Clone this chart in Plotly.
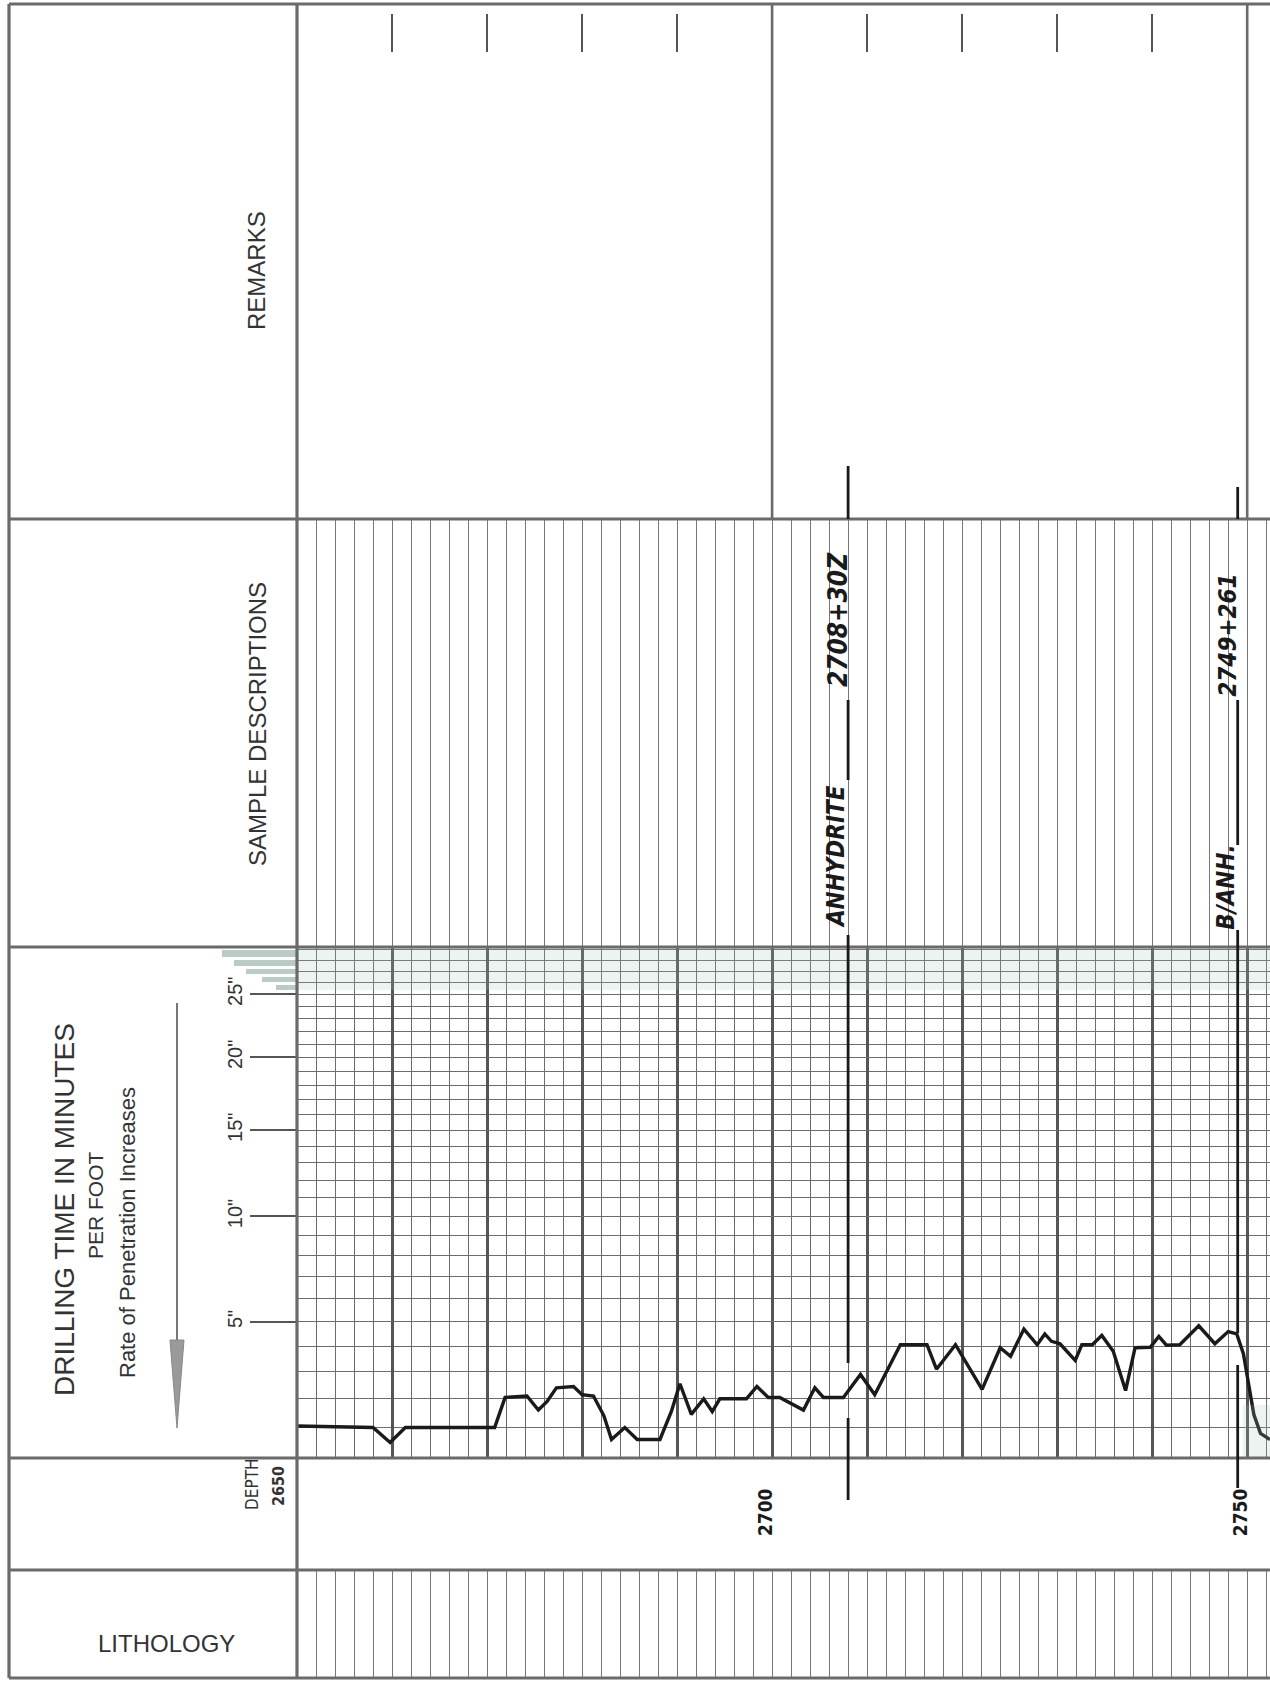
import math
import plotly.graph_objects as go

# drilling time curve: depth (ft) and minutes per foot
depth_ft = [2650.0, 2658.0, 2659.8, 2661.4, 2670.8, 2671.9, 2674.2, 2675.4, 2676.3, 2677.3,
            2679.1, 2680.0, 2681.2, 2682.3, 2683.1, 2684.5, 2685.8, 2688.2, 2689.4, 2690.3,
            2691.5, 2692.8, 2693.7, 2694.5, 2697.3, 2698.4, 2699.6, 2700.8, 2703.3, 2704.5,
            2705.4, 2707.5, 2709.3, 2710.8, 2713.5, 2716.3, 2717.3, 2719.3, 2722.1, 2724.0,
            2725.1, 2726.5, 2727.9, 2728.7, 2729.4, 2730.3, 2731.9, 2732.6, 2733.7, 2734.7,
            2735.9, 2737.2, 2738.2, 2739.8, 2740.7, 2741.5, 2742.9, 2744.9, 2746.6, 2748.0,
            2748.9, 2749.6, 2750.7, 2751.4, 2752.4]
drill_min = [1.05, 1.0, 0.5, 1.0, 1.0, 2.05, 2.1, 1.6, 1.9, 2.4,
             2.45, 2.15, 2.1, 1.4, 0.6, 1.0, 0.6, 0.6, 1.55, 2.55,
             1.45, 2.0, 1.55, 2.0, 2.0, 2.45, 2.05, 2.05, 1.6, 2.4,
             2.05, 2.05, 2.9, 2.15, 4.06, 4.06, 3.1, 4.06, 2.34, 3.94,
             3.6, 4.7, 4.06, 4.5, 4.2, 4.1, 3.44, 4.06, 4.06, 4.44,
             3.8, 2.3, 3.94, 3.96, 4.4, 4.04, 4.06, 4.84, 4.1, 4.6,
             4.5, 3.7, 1.44, 0.8, 0.6]

# time scale of the form
time_ticks = [5, 10, 15, 20, 25]
time_tick_text = ['5"', '10"', '15"', '20"', '25"']
minute_lines = list(range(1, 30))
OFFSET = 15          # the chart's time scale is logarithmic in (minutes + 15)
TIME_TOP = 29.2

depth_top = 2650
depth_end = 2752.4
depth_labels = [2700, 2750]
remark_dividers = [2700, 2750]

# formation tops written on the log
tops = [2708, 2749]
top_names = ["ANHYDRITE", "B/ANH."]
top_values = ["2708+30Z", "2749+261"]

W, H = 1270, 1682


def px(p):
    return p / W


def py(p):
    return 1 - p / H


GRID = "#6c6c6c"
BORDER = "#6a6a6a"
INK = "#333333"
FONT = "Liberation Sans, Arial, sans-serif"
NARROW = "Liberation Sans Narrow, DejaVu Sans Condensed, Liberation Sans, sans-serif"
HAND = "DejaVu Sans Condensed, Liberation Sans Narrow, DejaVu Sans, sans-serif"

# band edges in pixels: top, remarks/sample, sample/drill, drill/depth, depth/lithology, bottom
band_y = [4, 519, 947, 1458, 1570, 1678]
left_x, head_x = 9, 297

fig = go.Figure()

fig.add_trace(go.Scatter(
    x=depth_ft, y=[m + OFFSET for m in drill_min], xaxis="x", yaxis="y",
    mode="lines", line=dict(color="#1a1a1a", width=3.4), hoverinfo="skip"))

for n in range(2, 6):
    fig.add_trace(go.Scatter(x=[depth_top], y=[0.5], xaxis="x%d" % n, yaxis="y%d" % n,
                             mode="markers", marker=dict(opacity=0), hoverinfo="skip"))

base_x = dict(range=[depth_top, depth_end], domain=[px(head_x), 1], showticklabels=False,
              zeroline=False, showline=False, ticks="", fixedrange=True)
base_y = dict(range=[0, 1], showticklabels=False, showgrid=False, zeroline=False,
              showline=False, ticks="", fixedrange=True)

layout = dict(
    width=W, height=H, margin=dict(l=0, r=0, t=0, b=0),
    paper_bgcolor="white", plot_bgcolor="white", showlegend=False,
    font=dict(family=FONT, color=INK),
    xaxis=dict(base_x, anchor="y", showgrid=True, dtick=10, tick0=depth_top,
               gridcolor="#555555", gridwidth=2.6,
               minor=dict(dtick=2, tick0=depth_top, showgrid=True, gridcolor=GRID, gridwidth=1.4)),
    yaxis=dict(type="log", anchor="x", domain=[py(band_y[3]), py(band_y[2])],
               range=[math.log10(OFFSET), math.log10(TIME_TOP + OFFSET)],
               tickmode="array", tickvals=[t + OFFSET for t in time_ticks], ticktext=time_tick_text,
               ticks="outside", ticklen=46, tickwidth=2, tickcolor="#555555", tickangle=-90,
               tickfont=dict(size=20, color=INK), showgrid=True, gridcolor=GRID, gridwidth=1.4,
               zeroline=False, showline=False, fixedrange=True,
               minor=dict(tickmode="array", tickvals=[m + OFFSET for m in minute_lines],
                          showgrid=True, gridcolor=GRID, gridwidth=1.4, ticks="")),
    xaxis2=dict(base_x, anchor="y2", matches="x", showgrid=True, dtick=2, tick0=depth_top,
                gridcolor="#777777", gridwidth=1.4),
    yaxis2=dict(base_y, anchor="x2", domain=[py(band_y[2]), py(band_y[1])]),
    xaxis3=dict(base_x, anchor="y3", matches="x", showgrid=True, dtick=2, tick0=depth_top,
                gridcolor="#777777", gridwidth=1.4),
    yaxis3=dict(base_y, anchor="x3", domain=[py(band_y[5]), py(band_y[4])]),
    xaxis4=dict(base_x, anchor="y4", matches="x", showgrid=False),
    yaxis4=dict(base_y, anchor="x4", domain=[py(band_y[4]), py(band_y[3])]),
    xaxis5=dict(base_x, anchor="y5", matches="x", showgrid=False, side="top",
                ticks="inside", ticklen=38, tickwidth=2.2, tickcolor="#555555",
                tickmode="linear", tick0=depth_top, dtick=10),
    yaxis5=dict(base_y, anchor="x5", domain=[py(band_y[1]), py(14)]),
)
fig.update_layout(**layout)

shapes = []
# scan tint at the top of the drilling-time grid
shapes.append(dict(type="rect", xref="paper", yref="paper", x0=px(head_x), x1=1,
                   y0=py(990), y1=py(band_y[2]), fillcolor="#9fc3b8", opacity=0.2,
                   line=dict(width=0), layer="above"))
shapes.append(dict(type="rect", xref="paper", yref="paper", x0=px(1243), x1=1,
                   y0=py(band_y[3]), y1=py(1405), fillcolor="#9fc3b8", opacity=0.2,
                   line=dict(width=0), layer="above"))
for x0, y0, y1 in [(222, 950, 957), (234, 960, 966), (246, 969, 974), (262, 977, 982), (276, 985, 990)]:
    shapes.append(dict(type="rect", xref="paper", yref="paper", x0=px(x0), x1=px(head_x),
                       y0=py(y1), y1=py(y0), fillcolor="#9db3ad", opacity=0.7, line=dict(width=0)))

# form borders
for y in band_y:
    shapes.append(dict(type="line", xref="paper", yref="paper", x0=px(left_x), x1=1,
                       y0=py(y), y1=py(y), line=dict(color=BORDER, width=3.2), layer="above"))
for x in [left_x, head_x]:
    shapes.append(dict(type="line", xref="paper", yref="paper", x0=px(x), x1=px(x),
                       y0=py(band_y[0]), y1=py(band_y[-1]), line=dict(color=BORDER, width=3.2),
                       layer="above"))
for d in remark_dividers:
    shapes.append(dict(type="line", xref="x", yref="paper", x0=d, x1=d,
                       y0=py(band_y[0]), y1=py(band_y[1]), line=dict(color=BORDER, width=2.6)))

# formation top marker lines (broken where text or curve crosses them)
top_segments = [
    [(466, 519), (700, 780), (935, 947), (947, 1363), (1418, 1500)],
    [(487, 519), (700, 845), (930, 947), (947, 1333), (1365, 1488)],
]
for d, segs in zip(tops, top_segments):
    for a, b in segs:
        shapes.append(dict(type="line", xref="x", yref="paper", x0=d, x1=d, y0=py(b), y1=py(a),
                           line=dict(color="#1a1a1a", width=2.8), layer="above"))

# direction arrow in the header
shapes.append(dict(type="line", xref="paper", yref="paper", x0=px(177), x1=px(177),
                   y0=py(1345), y1=py(1003), line=dict(color="#777777", width=2)))
shapes.append(dict(type="path", xref="paper", yref="paper",
                   path="M %f,%f L %f,%f L %f,%f Z" % (px(170), py(1340), px(184), py(1340),
                                                       px(177), py(1428)),
                   fillcolor="#9a9a9a", line=dict(color="#888888", width=1)))
fig.update_layout(shapes=shapes)

ann = []


def head(text, x, y, size, angle=-90, family=FONT):
    ann.append(dict(text=text, xref="paper", yref="paper", x=px(x), y=py(y), showarrow=False,
                    xanchor="center", yanchor="middle",
                    textangle=angle, font=dict(size=size, color=INK, family=family)))


head("REMARKS", 257, 271, 24)
head("SAMPLE DESCRIPTIONS", 257, 724, 24)
head("DRILLING TIME IN MINUTES", 64, 1210, 28)
head("PER FOOT", 95, 1205, 21)
head("Rate of Penetration Increases", 127, 1233, 22)
head("DEPTH", 252, 1484, 17, family=NARROW)
head("<b>2650</b>", 278, 1486, 16, family=NARROW)
head("LITHOLOGY", 166, 1643, 24, angle=0)

for d in depth_labels:
    ann.append(dict(text="<b>%d</b>" % d, xref="x", yref="paper", x=d, y=py(1512), xshift=-7,
                    xanchor="center", yanchor="middle", showarrow=False, textangle=-90,
                    font=dict(size=19, color="#1a1a1a", family=HAND)))

note_y = [(857, 620), (887, 635)]
note_size = [(24, 26), (24, 24)]
for d, name, val, (yn, yv), (sn, sv) in zip(tops, top_names, top_values, note_y, note_size):
    ann.append(dict(text="<b><i>%s</i></b>" % name, xref="x", yref="paper", x=d, y=py(yn),
                    xshift=-12, xanchor="center", yanchor="middle", showarrow=False,
                    textangle=-90, font=dict(size=sn, color="#1a1a1a", family=HAND)))
    ann.append(dict(text="<b><i>%s</i></b>" % val, xref="x", yref="paper", x=d, y=py(yv),
                    xshift=-10, xanchor="center", yanchor="middle", showarrow=False,
                    textangle=-90, font=dict(size=sv, color="#1a1a1a", family=HAND)))
fig.update_layout(annotations=ann)

fig.write_html("out.html", config={"displayModeBar": False},
               post_script="document.body.style.margin='0';")
